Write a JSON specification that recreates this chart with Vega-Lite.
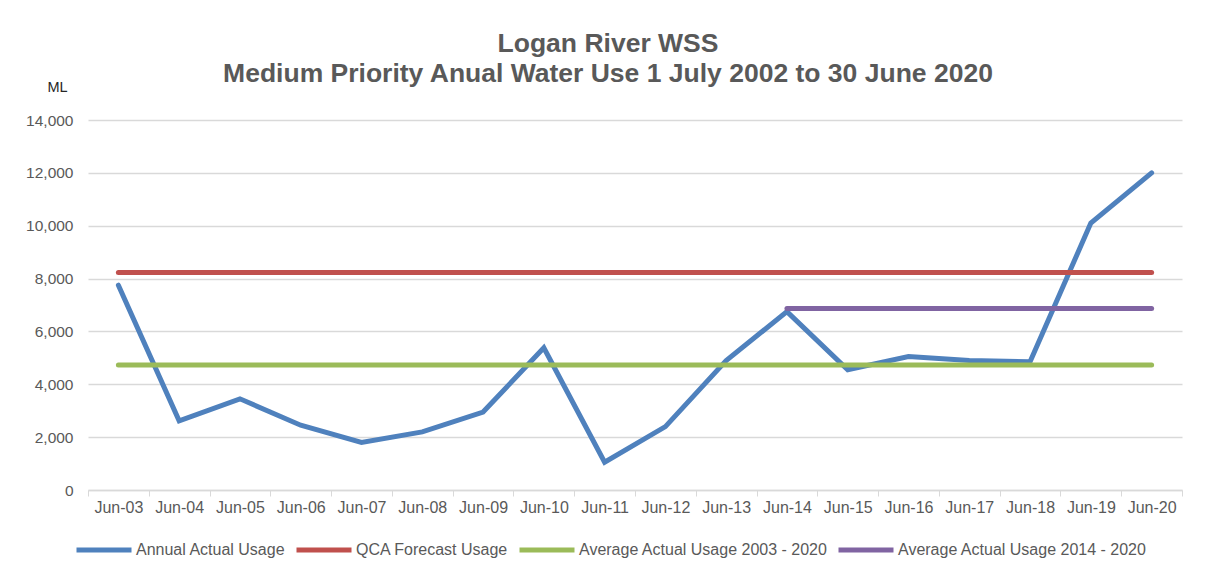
{
  "$schema": "https://vega.github.io/schema/vega-lite/v6.json",
  "width": 1094,
  "height": 370,
  "autosize": {"type": "none"},
  "padding": {"left": 88, "top": 120, "right": 23, "bottom": 90},
  "background": "white",
  "config": {
    "font": "Liberation Sans",
    "view": {"stroke": null}
  },
  "title": {
    "text": ["Logan River WSS", "Medium Priority Anual Water Use 1 July 2002 to 30 June 2020"],
    "anchor": "middle",
    "frame": "group",
    "dx": -27,
    "offset": -8,
    "fontSize": 26.5,
    "fontWeight": "bold",
    "color": "#595959",
    "lineHeight": 30
  },
  "data": {
    "values": [
      {"year": "Jun-03", "series": "Annual Actual Usage", "value": 7750},
      {"year": "Jun-04", "series": "Annual Actual Usage", "value": 2620},
      {"year": "Jun-05", "series": "Annual Actual Usage", "value": 3450},
      {"year": "Jun-06", "series": "Annual Actual Usage", "value": 2450},
      {"year": "Jun-07", "series": "Annual Actual Usage", "value": 1800},
      {"year": "Jun-08", "series": "Annual Actual Usage", "value": 2200},
      {"year": "Jun-09", "series": "Annual Actual Usage", "value": 2950},
      {"year": "Jun-10", "series": "Annual Actual Usage", "value": 5380},
      {"year": "Jun-11", "series": "Annual Actual Usage", "value": 1050},
      {"year": "Jun-12", "series": "Annual Actual Usage", "value": 2400},
      {"year": "Jun-13", "series": "Annual Actual Usage", "value": 4900},
      {"year": "Jun-14", "series": "Annual Actual Usage", "value": 6750},
      {"year": "Jun-15", "series": "Annual Actual Usage", "value": 4550},
      {"year": "Jun-16", "series": "Annual Actual Usage", "value": 5050},
      {"year": "Jun-17", "series": "Annual Actual Usage", "value": 4900},
      {"year": "Jun-18", "series": "Annual Actual Usage", "value": 4850},
      {"year": "Jun-19", "series": "Annual Actual Usage", "value": 10100},
      {"year": "Jun-20", "series": "Annual Actual Usage", "value": 12000},
      {"year": "Jun-03", "series": "QCA Forecast Usage", "value": 8230},
      {"year": "Jun-04", "series": "QCA Forecast Usage", "value": 8230},
      {"year": "Jun-05", "series": "QCA Forecast Usage", "value": 8230},
      {"year": "Jun-06", "series": "QCA Forecast Usage", "value": 8230},
      {"year": "Jun-07", "series": "QCA Forecast Usage", "value": 8230},
      {"year": "Jun-08", "series": "QCA Forecast Usage", "value": 8230},
      {"year": "Jun-09", "series": "QCA Forecast Usage", "value": 8230},
      {"year": "Jun-10", "series": "QCA Forecast Usage", "value": 8230},
      {"year": "Jun-11", "series": "QCA Forecast Usage", "value": 8230},
      {"year": "Jun-12", "series": "QCA Forecast Usage", "value": 8230},
      {"year": "Jun-13", "series": "QCA Forecast Usage", "value": 8230},
      {"year": "Jun-14", "series": "QCA Forecast Usage", "value": 8230},
      {"year": "Jun-15", "series": "QCA Forecast Usage", "value": 8230},
      {"year": "Jun-16", "series": "QCA Forecast Usage", "value": 8230},
      {"year": "Jun-17", "series": "QCA Forecast Usage", "value": 8230},
      {"year": "Jun-18", "series": "QCA Forecast Usage", "value": 8230},
      {"year": "Jun-19", "series": "QCA Forecast Usage", "value": 8230},
      {"year": "Jun-20", "series": "QCA Forecast Usage", "value": 8230},
      {"year": "Jun-03", "series": "Average Actual Usage 2003 - 2020", "value": 4730},
      {"year": "Jun-04", "series": "Average Actual Usage 2003 - 2020", "value": 4730},
      {"year": "Jun-05", "series": "Average Actual Usage 2003 - 2020", "value": 4730},
      {"year": "Jun-06", "series": "Average Actual Usage 2003 - 2020", "value": 4730},
      {"year": "Jun-07", "series": "Average Actual Usage 2003 - 2020", "value": 4730},
      {"year": "Jun-08", "series": "Average Actual Usage 2003 - 2020", "value": 4730},
      {"year": "Jun-09", "series": "Average Actual Usage 2003 - 2020", "value": 4730},
      {"year": "Jun-10", "series": "Average Actual Usage 2003 - 2020", "value": 4730},
      {"year": "Jun-11", "series": "Average Actual Usage 2003 - 2020", "value": 4730},
      {"year": "Jun-12", "series": "Average Actual Usage 2003 - 2020", "value": 4730},
      {"year": "Jun-13", "series": "Average Actual Usage 2003 - 2020", "value": 4730},
      {"year": "Jun-14", "series": "Average Actual Usage 2003 - 2020", "value": 4730},
      {"year": "Jun-15", "series": "Average Actual Usage 2003 - 2020", "value": 4730},
      {"year": "Jun-16", "series": "Average Actual Usage 2003 - 2020", "value": 4730},
      {"year": "Jun-17", "series": "Average Actual Usage 2003 - 2020", "value": 4730},
      {"year": "Jun-18", "series": "Average Actual Usage 2003 - 2020", "value": 4730},
      {"year": "Jun-19", "series": "Average Actual Usage 2003 - 2020", "value": 4730},
      {"year": "Jun-20", "series": "Average Actual Usage 2003 - 2020", "value": 4730},
      {"year": "Jun-14", "series": "Average Actual Usage 2014 - 2020", "value": 6870},
      {"year": "Jun-15", "series": "Average Actual Usage 2014 - 2020", "value": 6870},
      {"year": "Jun-16", "series": "Average Actual Usage 2014 - 2020", "value": 6870},
      {"year": "Jun-17", "series": "Average Actual Usage 2014 - 2020", "value": 6870},
      {"year": "Jun-18", "series": "Average Actual Usage 2014 - 2020", "value": 6870},
      {"year": "Jun-19", "series": "Average Actual Usage 2014 - 2020", "value": 6870},
      {"year": "Jun-20", "series": "Average Actual Usage 2014 - 2020", "value": 6870}
    ]
  },
  "mark": {"type": "line", "strokeWidth": 5, "strokeCap": "round", "strokeJoin": "miter"},
  "encoding": {
    "x": {
      "field": "year",
      "type": "ordinal",
      "sort": null,
      "scale": {"type": "band", "paddingInner": 0, "paddingOuter": 0},
      "axis": {
        "title": null,
        "labelAngle": 0,
        "labelFontSize": 16,
        "labelColor": "#595959",
        "labelPadding": 3,
        "tickBand": "extent",
        "tickColor": "#D9D9D9",
        "tickSize": 6,
        "domainColor": "#D9D9D9",
        "domainWidth": 1.5,
        "grid": false
      }
    },
    "y": {
      "field": "value",
      "type": "quantitative",
      "scale": {"domain": [0, 14000], "nice": false},
      "axis": {
        "values": [0, 2000, 4000, 6000, 8000, 10000, 12000, 14000],
        "format": ",d",
        "title": "ML",
        "titleAngle": 0,
        "titleX": -31,
        "titleY": -33,
        "titleAlign": "center",
        "titleBaseline": "middle",
        "titleFontSize": 14.5,
        "titleFontWeight": "normal",
        "titleColor": "#262626",
        "labelFontSize": 15.5,
        "labelColor": "#595959",
        "labelPadding": 15,
        "domain": false,
        "ticks": false,
        "gridColor": "#D9D9D9",
        "gridWidth": 1.5
      }
    },
    "color": {
      "field": "series",
      "type": "nominal",
      "sort": ["Annual Actual Usage", "QCA Forecast Usage", "Average Actual Usage 2003 - 2020", "Average Actual Usage 2014 - 2020"],
      "scale": {
        "domain": ["Annual Actual Usage", "QCA Forecast Usage", "Average Actual Usage 2003 - 2020", "Average Actual Usage 2014 - 2020"],
        "range": ["#4F81BD", "#C0504D", "#9BBB59", "#8064A2"]
      },
      "legend": {
        "title": null,
        "orient": "none",
        "direction": "horizontal",
        "legendX": -14,
        "legendY": 400,
        "symbolType": "stroke",
        "symbolSize": 3025,
        "symbolStrokeWidth": 5,
        "labelFontSize": 16,
        "labelColor": "#595959",
        "labelOffset": 2,
        "labelLimit": 0,
        "columnPadding": 0
      }
    }
  }
}
